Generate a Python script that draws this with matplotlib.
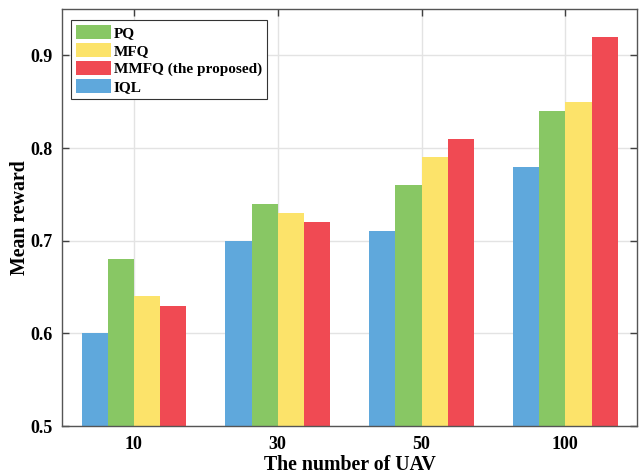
import matplotlib
matplotlib.use("Agg")
import matplotlib.pyplot as plt
import numpy as np

plt.rcParams['font.family'] = ['Liberation Serif', 'DejaVu Serif']
plt.rcParams['font.weight'] = 'bold'

categories = ['10', '30', '50', '100']
iql = [0.60, 0.70, 0.71, 0.78]
pq = [0.68, 0.74, 0.76, 0.84]
mfq = [0.64, 0.73, 0.79, 0.85]
mmfq = [0.63, 0.72, 0.81, 0.92]

series = [
    ('IQL', iql, '#5FA8DC'),
    ('PQ', pq, '#88C764'),
    ('MFQ', mfq, '#FCE36A'),
    ('MMFQ (the proposed)', mmfq, '#F04A53'),
]

fig = plt.figure(figsize=(6.42, 4.75), dpi=100)
ax = fig.add_axes([0.0966, 0.103, 0.896, 0.878])

x = np.arange(1, len(categories) + 1)
width = 0.182
handles = {}
for i, (name, vals, color) in enumerate(series):
    bars = ax.bar(x + (i - 1.5) * width, vals, width=width, color=color,
                  edgecolor='none', zorder=2, label=name)
    handles[name] = bars

ax.set_xlim(0.5, 4.5)
ax.set_ylim(0.5, 0.95)
ax.set_xticks(x)
ax.set_xticklabels(categories)
ax.set_yticks([0.5, 0.6, 0.7, 0.8, 0.9])
ax.set_yticklabels(['0.5', '0.6', '0.7', '0.8', '0.9'])
ax.grid(True, color='#e3e3e3', linewidth=1.0, zorder=0)
ax.set_axisbelow(True)

ax.tick_params(direction='in', length=5, width=1.0, color='#404040',
               labelsize=13, top=True, right=True, pad=7)
for lbl in ax.get_xticklabels() + ax.get_yticklabels():
    lbl.set_fontweight('bold')
for sp in ax.spines.values():
    sp.set_color('#555555')
    sp.set_linewidth(1.0)

ax.set_xlabel('The number of UAV', fontsize=14.3, fontweight='bold')
ax.set_ylabel('Mean reward', fontsize=14.3, fontweight='bold')
ax.xaxis.set_label_coords(0.5, -0.069)
ax.yaxis.set_label_coords(-0.055, 0.5)

order = ['PQ', 'MFQ', 'MMFQ (the proposed)', 'IQL']
leg = ax.legend([handles[n] for n in order], order, loc='upper left',
                bbox_to_anchor=(0.016, 0.973), fancybox=False, framealpha=1,
                edgecolor='#333333', prop={'weight': 'bold', 'size': 11},
                handlelength=2.3, handleheight=1.0, handletextpad=0.2,
                labelspacing=0.2, borderpad=0.3, borderaxespad=0.0)
leg.get_frame().set_linewidth(0.8)

fig.savefig('out.png', dpi=100)
